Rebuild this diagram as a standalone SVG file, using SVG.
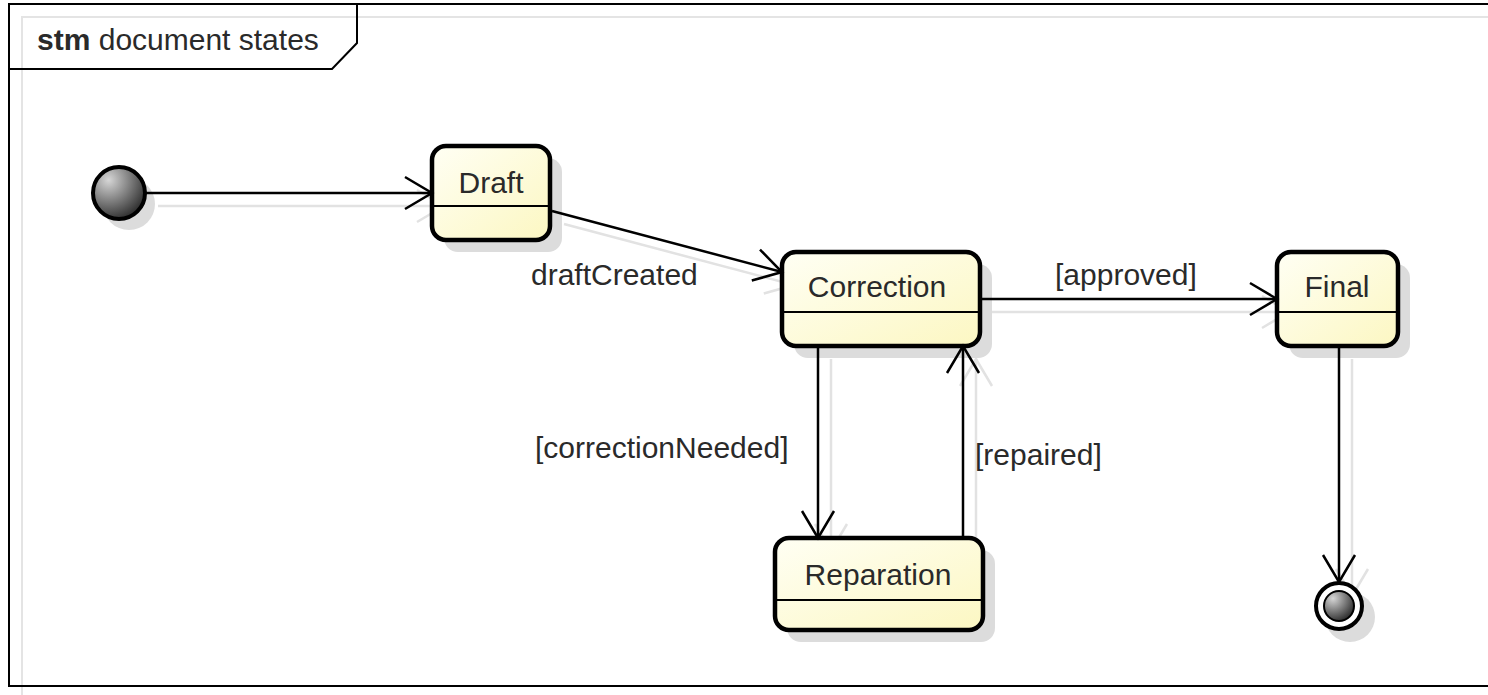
<svg xmlns="http://www.w3.org/2000/svg" width="1488" height="695" viewBox="0 0 1488 695">
<defs>
<style>
.frame{fill:none;stroke:#000;stroke-width:2}
.fshadow{fill:none;stroke:#e4e4e4;stroke-width:2}
.state{fill:url(#stateGrad);stroke:#000;stroke-width:4.5}
.sshadow{fill:#dcdcdc}
.div{stroke:#000;stroke-width:2}
.lbl{font-family:"Liberation Sans",Arial,sans-serif;font-size:30px;fill:#2a2a2a}
.ctr{text-anchor:middle}
.conn{fill:none;stroke:#000;stroke-width:2.5}
.cshadow{fill:none;stroke:#e2e2e2;stroke-width:2.5}
.ahead{fill:none;stroke:#000;stroke-width:2.5}
.ahead-s{fill:none;stroke:#e2e2e2;stroke-width:2.5}
</style>
<linearGradient id="stateGrad" x1="0" y1="0" x2="1" y2="1">
<stop offset="0" stop-color="#fffff4"/>
<stop offset="1" stop-color="#fcf7c2"/>
</linearGradient>
<radialGradient id="ballGrad" cx="0.3" cy="0.25" r="0.85">
<stop offset="0" stop-color="#d6d6d6"/>
<stop offset="1" stop-color="#222"/>
</radialGradient>
<marker id="arr" markerUnits="userSpaceOnUse" markerWidth="40" markerHeight="40" viewBox="-32 -20 36 40" refX="0" refY="0" orient="auto">
<path class="ahead" d="M-27,-16 L0,0 L-27,16"/>
</marker>
<marker id="arrs" markerUnits="userSpaceOnUse" markerWidth="40" markerHeight="40" viewBox="-32 -20 36 40" refX="0" refY="0" orient="auto">
<path class="ahead-s" d="M-27,-16 L0,0 L-27,16"/>
</marker>
</defs>
<rect width="1488" height="695" fill="#fff"/>

<g id="frame">
<rect class="fshadow" x="22" y="17" width="1500" height="682"/>
<rect class="frame" x="9" y="4" width="1500" height="682"/>
<path class="frame" d="M9,69 L332,69 L357,43 L357,4" fill="#fff"/>
<text class="lbl" x="37" y="50"><tspan font-weight="bold">stm</tspan> document states</text>
</g>

<g id="connector-shadows">
<line class="cshadow" x1="158" y1="206" x2="444" y2="206" marker-end="url(#arrs)"/>
<line class="cshadow" x1="564" y1="224" x2="794" y2="285" marker-end="url(#arrs)"/>
<line class="cshadow" x1="992" y1="312" x2="1289" y2="312" marker-end="url(#arrs)"/>
<line class="cshadow" x1="831" y1="359" x2="831" y2="551" marker-end="url(#arrs)"/>
<line class="cshadow" x1="976" y1="551" x2="976" y2="359" marker-end="url(#arrs)"/>
<line class="cshadow" x1="1352" y1="359" x2="1352" y2="596" marker-end="url(#arrs)"/>
</g>

<g id="initial">
<circle class="sshadow" cx="129" cy="204" r="26"/>
<circle cx="119" cy="193" r="26" fill="url(#ballGrad)" stroke="#000" stroke-width="4"/>
</g>

<g id="draft">
<rect class="sshadow" x="444" y="158" width="118" height="94" rx="14"/>
<rect class="state" x="432" y="146" width="118" height="94" rx="14"/>
<line class="div" x1="432" y1="206" x2="550" y2="206"/>
<text class="lbl ctr" x="491" y="193">Draft</text>
</g>

<g id="correction">
<rect class="sshadow" x="794" y="264" width="198" height="94" rx="14"/>
<rect class="state" x="782" y="252" width="198" height="94" rx="14"/>
<line class="div" x1="782" y1="312" x2="980" y2="312"/>
<text class="lbl ctr" x="877" y="297">Correction</text>
</g>

<g id="final">
<rect class="sshadow" x="1289" y="264" width="121" height="94" rx="14"/>
<rect class="state" x="1277" y="252" width="121" height="94" rx="14"/>
<line class="div" x1="1277" y1="312" x2="1398" y2="312"/>
<text class="lbl ctr" x="1337" y="297">Final</text>
</g>

<g id="reparation">
<rect class="sshadow" x="787" y="550" width="208" height="92" rx="14"/>
<rect class="state" x="775" y="538" width="208" height="92" rx="14"/>
<line class="div" x1="775" y1="600" x2="983" y2="600"/>
<text class="lbl ctr" x="878" y="585">Reparation</text>
</g>

<g id="end">
<circle class="sshadow" cx="1350" cy="617" r="25"/>
<circle cx="1339" cy="606" r="23" fill="#fff" stroke="#000" stroke-width="4"/>
<circle cx="1339" cy="606" r="15" fill="url(#ballGrad)" stroke="#000" stroke-width="2"/>
</g>

<g id="connectors">
<line id="e-init-draft" class="conn" x1="145" y1="193" x2="432" y2="193" marker-end="url(#arr)"/>
<line id="e-draft-corr" class="conn" x1="552" y1="211" x2="782" y2="272" marker-end="url(#arr)"/>
<line id="e-corr-final" class="conn" x1="982" y1="299" x2="1277" y2="299" marker-end="url(#arr)"/>
<line id="e-corr-rep" class="conn" x1="818" y1="348" x2="818" y2="538" marker-end="url(#arr)"/>
<line id="e-rep-corr" class="conn" x1="963" y1="536" x2="963" y2="346" marker-end="url(#arr)"/>
<line id="e-final-end" class="conn" x1="1339" y1="348" x2="1339" y2="582" marker-end="url(#arr)"/>
<text class="lbl" x="531" y="285">draftCreated</text>
<text class="lbl" x="1055" y="285">[approved]</text>
<text class="lbl" x="535" y="458">[correctionNeeded]</text>
<text class="lbl" x="975" y="465">[repaired]</text>
</g>
</svg>
